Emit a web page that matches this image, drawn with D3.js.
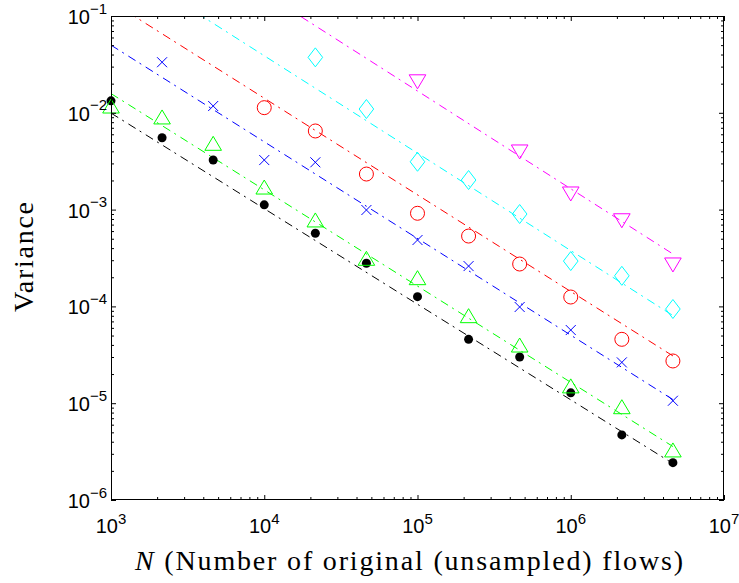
<!DOCTYPE html>
<html><head><meta charset="utf-8">
<script src="https://cdn.jsdelivr.net/npm/d3@7"></script>
<style>body{margin:0;background:#fff}svg{display:block}
.sans{font-family:"Liberation Sans",Arial,sans-serif}
.serif{font-family:"Liberation Serif","Times New Roman",serif}</style>
</head><body>
<svg id="c" width="739" height="583"></svg>
<script>
// ---- data ----
const flowsN = [1000, 2154, 4642, 10000, 21544, 46416, 100000, 215443, 464159, 1000000, 2154435, 4641589];
const varBlack   = [0.0133, 0.00553, 0.00325, 0.00112, 5.69e-4, 2.79e-4, 1.26e-4, 4.57e-5, 3.0e-5, 1.28e-5, 4.70e-6, 2.43e-6];
const varGreen   = [0.01175, 0.00906, 0.00484, 0.00171, 7.82e-4, 3.14e-4, 1.98e-4, 8.02e-5, 3.99e-5, 1.51e-5, 9.2e-6, 3.29e-6];
const varBlue    = [null, 0.0333, 0.01175, 0.00325, 0.00308, 9.9e-4, 4.85e-4, 2.61e-4, 9.86e-5, 5.7e-5, 2.64e-5, 1.06e-5];
const varRed     = [null, null, null, 0.0113, 0.00649, 0.00233, 9.16e-4, 5.33e-4, 2.74e-4, 1.25e-4, 4.57e-5, 2.73e-5];
const varCyan    = [null, null, null, null, 0.0374, 0.01094, 0.00312, 0.00202, 9.0e-4, 2.94e-4, 2.07e-4, 9.4e-5];
const varMagenta = [null, null, null, null, null, null, 0.0209, null, 0.00394, 0.00145, 7.67e-4, 2.68e-4];
// fitted dash-dot lines: value at first and last N
const lineN = [1000, 4641589];
const lineBlack   = [0.00993, 2.38e-6];
const lineGreen   = [0.0158, 3.57e-6];
const lineBlue    = [0.050, 1.09e-5];
const lineRed     = [0.141, 3.08e-5];
const lineCyan    = [0.394, 8.05e-5];
const lineMagenta = [1.76, 3.48e-4];
const xMajor = [1e3, 1e4, 1e5, 1e6, 1e7];
const xMajorExp = ["3", "4", "5", "6", "7"];
const yMajor = [1e-6, 1e-5, 1e-4, 1e-3, 1e-2, 1e-1];
const yMajorExp = ["\u22126", "\u22125", "\u22124", "\u22123", "\u22122", "\u22121"];

// ---- layout ----
const L = 111, R = 724, T = 16, B = 500;
const svg = d3.select("#c");
const x = d3.scaleLog().domain([1e3, 1e7]).range([L, R]);
const y = d3.scaleLog().domain([1e-6, 1e-1]).range([B, T]);

svg.append("defs").append("clipPath").attr("id", "clip")
  .append("rect").attr("x", L).attr("y", T).attr("width", R - L).attr("height", B - T);

const series = [
  {v: varBlack,   line: lineBlack,   color: "#000000", mark: "dot"},
  {v: varGreen,   line: lineGreen,   color: "#00ff00", mark: "tri"},
  {v: varBlue,    line: lineBlue,    color: "#0000ff", mark: "x"},
  {v: varRed,     line: lineRed,     color: "#ff0000", mark: "circle"},
  {v: varCyan,    line: lineCyan,    color: "#00ffff", mark: "diamond"},
  {v: varMagenta, line: lineMagenta, color: "#ff00ff", mark: "tridown"}
];

// lines
const lg = svg.append("g").attr("clip-path", "url(#clip)");
const lineGen = d3.line().x(d => x(d[0])).y(d => y(d[1]));
series.forEach(s => {
  lg.append("path").attr("d", lineGen(lineN.map((n, i) => [n, s.line[i]])))
    .attr("fill", "none").attr("stroke", s.color).attr("stroke-width", 1)
    .attr("stroke-dasharray", "8.5,4.75,2,5.25");
});

// markers
const shapes = {
  tri: "M0,-7L8.3,7L-8.3,7Z",
  tridown: "M0,7L8.3,-7L-8.3,-7Z",
  diamond: "M0,-9.5L7.3,0L0,9.5L-7.3,0Z",
  x: "M-5,-5L5,5M-5,5L5,-5"
};
const mg = svg.append("g");
series.forEach(s => {
  const pts = flowsN.map((n, i) => [n, s.v[i]]).filter(d => d[1] != null);
  pts.forEach(d => {
    const cx = x(d[0]), cy = y(d[1]);
    if (s.mark === "dot") {
      mg.append("circle").attr("cx", cx).attr("cy", cy).attr("r", 4.5).attr("fill", s.color);
    } else if (s.mark === "circle") {
      mg.append("circle").attr("cx", cx).attr("cy", cy).attr("r", 7)
        .attr("fill", "none").attr("stroke", s.color).attr("stroke-width", 1);
    } else {
      mg.append("path").attr("d", shapes[s.mark]).attr("transform", `translate(${cx},${cy})`)
        .attr("fill", "none").attr("stroke", s.color).attr("stroke-width", 1);
    }
  });
});

// axes box + ticks
const ag = svg.append("g");
const xMinor = x.ticks().filter(t => !xMajor.includes(t));
const yMinor = y.ticks().filter(t => !yMajor.some(m => Math.abs(m - t) / t < 1e-9));
function ticks(g, axisFn, scale, vals, size) {
  g.call(axisFn(scale).tickValues(vals).tickSize(size).tickFormat(""))
   .call(a => a.select(".domain").remove());
  g.selectAll("line").attr("stroke", "#000").attr("stroke-width", 1);
}
ticks(ag.append("g").attr("transform", `translate(0,${B})`), d3.axisBottom, x, xMajor, -5);
ticks(ag.append("g").attr("transform", `translate(0,${B})`), d3.axisBottom, x, xMinor, -3);
ticks(ag.append("g").attr("transform", `translate(0,${T})`), d3.axisTop, x, xMajor, -5);
ticks(ag.append("g").attr("transform", `translate(0,${T})`), d3.axisTop, x, xMinor, -3);
ticks(ag.append("g").attr("transform", `translate(${L},0)`), d3.axisLeft, y, yMajor, -5);
ticks(ag.append("g").attr("transform", `translate(${L},0)`), d3.axisLeft, y, yMinor, -3);
ticks(ag.append("g").attr("transform", `translate(${R},0)`), d3.axisRight, y, yMajor, -5);
ticks(ag.append("g").attr("transform", `translate(${R},0)`), d3.axisRight, y, yMinor, -3);
ag.append("rect").attr("x", L + 0.5).attr("y", T + 0.5).attr("width", R - L - 1).attr("height", B - T - 1)
  .attr("fill", "none").attr("stroke", "#000").attr("stroke-width", 1);

// tick labels
const lab = svg.append("g").attr("class", "sans").attr("fill", "#000");
xMajor.forEach((v, i) => {
  const t = lab.append("text").attr("x", x(v)).attr("y", 533).attr("text-anchor", "middle").attr("font-size", 20);
  t.append("tspan").text("10");
  t.append("tspan").attr("font-size", 15).attr("dy", -9).text(xMajorExp[i]);
});
yMajor.forEach((v, i) => {
  const t = lab.append("text").attr("x", 107).attr("y", y(v) + 8).attr("text-anchor", "end").attr("font-size", 20);
  t.append("tspan").text("10");
  t.append("tspan").attr("font-size", 15).attr("dy", -10.5).text(yMajorExp[i]);
});

// axis titles
const xt = svg.append("text").attr("class", "serif").attr("x", 135).attr("y", 570).attr("font-size", 28)
  .attr("textLength", 548).attr("lengthAdjust", "spacing");
xt.append("tspan").attr("font-style", "italic").text("N");
xt.append("tspan").text(" (Number of original (unsampled) flows)");
svg.append("text").attr("class", "serif").attr("transform", "translate(33,257) rotate(-90)").attr("text-anchor", "middle")
  .attr("font-size", 28).attr("textLength", 110).attr("lengthAdjust", "spacing")
  .text("Variance");
</script>
</body></html>
